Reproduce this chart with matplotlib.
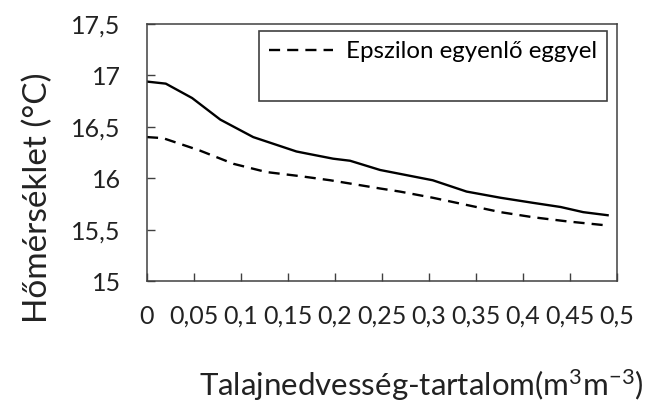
import numpy as np
import matplotlib
matplotlib.use('Agg')
import matplotlib.pyplot as plt
from matplotlib.lines import Line2D
from matplotlib.ticker import FuncFormatter

plt.rcParams['font.family'] = ['Lato', 'DejaVu Sans']
plt.rcParams['mathtext.fontset'] = 'custom'
plt.rcParams['mathtext.rm'] = 'Lato'
plt.rcParams['mathtext.default'] = 'regular'

# talajnedvesség (m3/m3)
x_solid = [0, 0.02, 0.048, 0.078, 0.113, 0.159, 0.17, 0.198, 0.216, 0.248, 0.304, 0.34, 0.376, 0.411, 0.44, 0.464, 0.49]
y_solid = [16.94, 16.92, 16.78, 16.57, 16.40, 16.26, 16.24, 16.19, 16.17, 16.08, 15.98, 15.87, 15.81, 15.76, 15.72, 15.67, 15.64]

x_dash = [0, 0.017, 0.056, 0.092, 0.127, 0.163, 0.195, 0.248, 0.269, 0.304, 0.34, 0.376, 0.411, 0.447, 0.49]
y_dash = [16.40, 16.39, 16.27, 16.14, 16.06, 16.02, 15.98, 15.90, 15.87, 15.81, 15.74, 15.67, 15.62, 15.58, 15.54]

xticks = np.arange(0, 0.501, 0.05)
yticks = [15, 15.5, 16, 16.5, 17, 17.5]

fig = plt.figure(figsize=(6.51, 4.03), dpi=100)
ax = fig.add_axes([0.2258, 0.3027, 0.722, 0.6377])

ax.plot(x_solid, y_solid, color='black', lw=1.7)
ax.plot(x_dash, y_dash, color='black', lw=1.7, dashes=(4.7, 3))

ax.set_xlim(0, 0.5)
ax.set_ylim(15, 17.5)
ax.set_xticks(xticks)
ax.set_yticks(yticks)

komma = FuncFormatter(lambda v, p: ('%g' % round(v, 3)).replace('.', ','))
ax.xaxis.set_major_formatter(komma)
ax.yaxis.set_major_formatter(komma)

ax.tick_params(direction='in', length=6, width=1, color='#404040', labelsize=18, labelcolor='#222222')
ax.tick_params(axis='x', pad=17)
ax.tick_params(axis='y', pad=19)
for s in ax.spines.values():
    s.set_color('#404040')
    s.set_linewidth(1.1)

ax.set_ylabel('Hőmérséklet (°C)', fontsize=24, color='#222222')
ax.set_xlabel('Talajnedvesség-tartalom(m$^3$m$^{-3}$)', fontsize=22.5, color='#222222')
ax.xaxis.set_label_coords(0.583, -0.335)
ax.yaxis.set_label_coords(-0.2, 0.325)

h1 = Line2D([], [], color='black', lw=1.7, dashes=(4.7, 3))
h2 = Line2D([], [], color='none')
leg = ax.legend([h1, h2], ['Epszilon egyenlő eggyel', ' '], loc='upper right',
                bbox_to_anchor=(0.979, 0.973), borderaxespad=0, fancybox=False, edgecolor='#404040',
                fontsize=17.3, handlelength=2.65, handletextpad=0.55, borderpad=0.42,
                labelspacing=0.32, framealpha=1)
leg.get_frame().set_linewidth(1.2)

fig.savefig('out.png', dpi=100)
